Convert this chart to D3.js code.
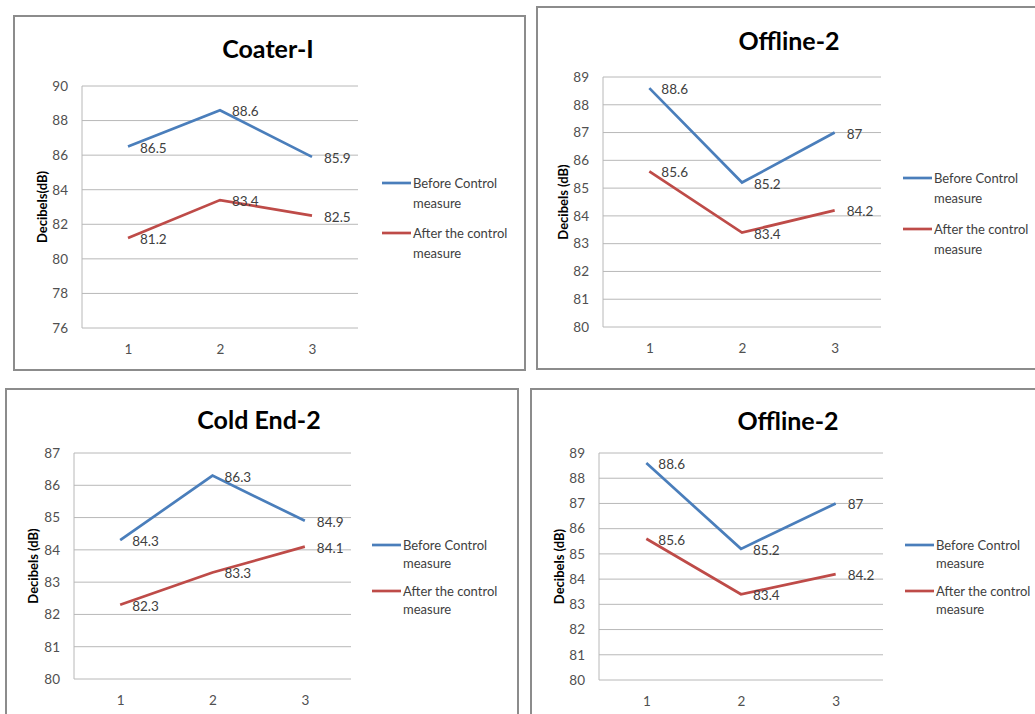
<!DOCTYPE html>
<html>
<head>
<meta charset="utf-8">
<script src="https://cdn.jsdelivr.net/npm/d3@7"></script>
<style>
  html, body { margin: 0; padding: 0; background: #fff; }
  svg { display: block; font-family: Lato, "Open Sans", sans-serif; }
</style>
</head>
<body>
<svg id="chart" width="1035" height="714"></svg>
<script>
// ---- data ----
const titles = ["Coater-I", "Offline-2", "Cold End-2", "Offline-2"];
const categories = ["1", "2", "3"];
const seriesNames = ["Before Control measure", "After the control measure"];
const beforeValues = [
  [86.5, 88.6, 85.9],
  [88.6, 85.2, 87],
  [84.3, 86.3, 84.9],
  [88.6, 85.2, 87]
];
const afterValues = [
  [81.2, 83.4, 82.5],
  [85.6, 83.4, 84.2],
  [82.3, 83.3, 84.1],
  [85.6, 83.4, 84.2]
];
const yMin = [76, 80, 80, 80];
const yMax = [90, 89, 87, 89];
const yStep = [2, 1, 1, 1];
const yAxisTitles = ["Decibels(dB)", "Decibels (dB)", "Decibels (dB)", "Decibels (dB)"];

// ---- layout (positions only) ----
const layout = [
  { frame: [14, 16, 511, 354], plot: [82, 86, 358, 328], titleX: 268, titleY: 48, yTitleX: 42, legX: 382, legY: [183, 203, 233, 253] },
  { frame: [537, 7, 520, 362], plot: [603, 77, 881, 327], titleX: 789, titleY: 40, yTitleX: 563, legX: 903, legY: [178, 198, 229, 249] },
  { frame: [6, 389, 512, 340], plot: [74, 453, 351, 679], titleX: 259, titleY: 419, yTitleX: 33, legX: 372, legY: [545, 563, 591, 609] },
  { frame: [531, 389, 520, 340], plot: [599, 453, 883, 680], titleX: 788, titleY: 420, yTitleX: 559, legX: 905, legY: [545, 563, 591, 609] }
];

const colors = ["#4a7ebb", "#be4b48"];
const svg = d3.select("#chart");

titles.forEach((title, i) => {
  const L = layout[i];
  const [fx, fy, fw, fh] = L.frame;
  const [x0, y0, x1, y1] = L.plot;
  const g = svg.append("g");

  g.append("rect").attr("x", fx).attr("y", fy).attr("width", fw).attr("height", fh)
    .attr("fill", "#fff").attr("stroke", "#8c8c8c").attr("stroke-width", 2);

  const x = d3.scalePoint().domain(categories).range([x0, x1]).padding(0.5);
  const y = d3.scaleLinear().domain([yMin[i], yMax[i]]).range([y1, y0]);
  const ticks = d3.range(yMin[i], yMax[i] + 0.001, yStep[i]);

  // gridlines
  g.append("g").selectAll("line").data(ticks).join("line")
    .attr("x1", x0).attr("x2", x1)
    .attr("y1", d => y(d)).attr("y2", d => y(d))
    .attr("stroke", "#b8b8b8").attr("stroke-width", 1);
  // vertical axis line
  g.append("line").attr("x1", x0).attr("x2", x0).attr("y1", y0).attr("y2", y1)
    .attr("stroke", "#b8b8b8").attr("stroke-width", 1);

  // y axis
  const ya = g.append("g").attr("transform", `translate(${x0},0)`)
    .call(d3.axisLeft(y).tickValues(ticks).tickSize(0).tickPadding(14).tickFormat(d3.format("d")));
  ya.select(".domain").remove();
  ya.selectAll("text").attr("font-size", 13.5).attr("fill", "#505050").attr("font-family", "Lato, sans-serif");

  // x axis
  const xa = g.append("g").attr("transform", `translate(0,${y1})`)
    .call(d3.axisBottom(x).tickSize(0).tickPadding(16));
  xa.select(".domain").remove();
  xa.selectAll("text").attr("font-size", 13.5).attr("fill", "#505050").attr("font-family", "Lato, sans-serif");

  // title
  g.append("text").attr("x", L.titleX).attr("y", L.titleY)
    .attr("text-anchor", "middle").attr("dominant-baseline", "central")
    .attr("font-size", 25).attr("font-weight", "bold").attr("fill", "#000").text(title);

  // y axis title
  g.append("text")
    .attr("transform", `translate(${L.yTitleX},${(y0 + y1) / 2}) rotate(-90)`)
    .attr("text-anchor", "middle").attr("dominant-baseline", "central")
    .attr("font-size", 13).attr("font-weight", "bold").attr("fill", "#000")
    .text(yAxisTitles[i]);

  // lines
  const series = [beforeValues[i], afterValues[i]];
  const line = d3.line().x((d, k) => x(categories[k])).y(d => y(d));
  series.forEach((vals, s) => {
    g.append("path").datum(vals).attr("d", line)
      .attr("fill", "none").attr("stroke", colors[s]).attr("stroke-width", 2.7)
      .attr("stroke-linejoin", "miter");
  });
  // data labels
  series.forEach((vals, s) => {
    g.append("g").selectAll("text").data(vals).join("text")
      .attr("x", (d, k) => x(categories[k]) + 12)
      .attr("y", d => y(d) + 1)
      .attr("dominant-baseline", "central")
      .attr("font-size", 13.5).attr("fill", "#404040")
      .text(d => d);
  });

  // legend
  seriesNames.forEach((name, s) => {
    const ly = L.legY[s * 2];
    g.append("line").attr("x1", L.legX).attr("x2", L.legX + 29)
      .attr("y1", ly).attr("y2", ly)
      .attr("stroke", colors[s]).attr("stroke-width", 2.7);
    const words = name.split(" ");
    const line1 = words.slice(0, words.length - 1).join(" ");
    const line2 = words[words.length - 1];
    [line1, line2].forEach((t, j) => {
      g.append("text").attr("x", L.legX + 31).attr("y", L.legY[s * 2 + j])
        .attr("dominant-baseline", "central")
        .attr("font-size", 13).attr("fill", "#404040").text(t);
    });
  });
});
</script>
</body>
</html>
